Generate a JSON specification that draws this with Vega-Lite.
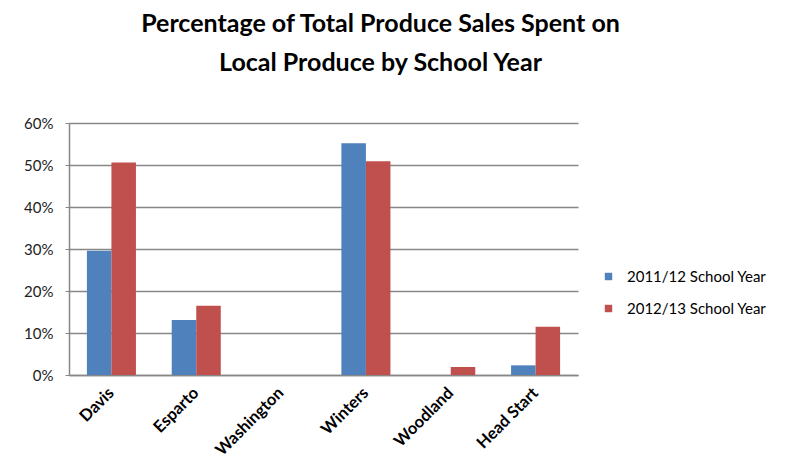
{
  "$schema": "https://vega.github.io/schema/vega-lite/v6.json",
  "width": 509,
  "height": 252,
  "autosize": {"type": "none"},
  "padding": {"left": 69, "top": 123, "right": 208, "bottom": 99},
  "background": "white",
  "title": {
    "text": ["Percentage of Total Produce Sales Spent on", "Local Produce by School Year"],
    "font": "Lato",
    "fontSize": 25,
    "fontWeight": "bold",
    "color": "#000000",
    "anchor": "middle",
    "frame": "group",
    "dx": 57,
    "lineHeight": 39,
    "offset": 40
  },
  "data": {
    "values": [
      {"school": "Davis", "year": "2011/12 School Year", "share": 0.296},
      {"school": "Davis", "year": "2012/13 School Year", "share": 0.506},
      {"school": "Esparto", "year": "2011/12 School Year", "share": 0.131},
      {"school": "Esparto", "year": "2012/13 School Year", "share": 0.165},
      {"school": "Washington", "year": "2011/12 School Year", "share": 0},
      {"school": "Washington", "year": "2012/13 School Year", "share": 0},
      {"school": "Winters", "year": "2011/12 School Year", "share": 0.552},
      {"school": "Winters", "year": "2012/13 School Year", "share": 0.509},
      {"school": "Woodland", "year": "2011/12 School Year", "share": 0},
      {"school": "Woodland", "year": "2012/13 School Year", "share": 0.019},
      {"school": "Head Start", "year": "2011/12 School Year", "share": 0.023},
      {"school": "Head Start", "year": "2012/13 School Year", "share": 0.115}
    ]
  },
  "mark": {"type": "bar"},
  "encoding": {
    "x": {
      "field": "school",
      "type": "nominal",
      "sort": null,
      "scale": {"paddingInner": 0, "paddingOuter": 0},
      "axis": {
        "title": null,
        "labelAngle": -45,
        "labelAlign": "right",
        "labelBaseline": "middle",
        "labelFont": "Lato",
        "labelFontSize": 16.5,
        "labelFontWeight": "bold",
        "labelColor": "#000000",
        "labelPadding": 15,
        "ticks": false,
        "domainColor": "#878787",
        "domainWidth": 1.5,
        "grid": false
      }
    },
    "xOffset": {
      "field": "year",
      "type": "nominal",
      "scale": {"paddingInner": 0, "paddingOuter": 0.73}
    },
    "y": {
      "field": "share",
      "type": "quantitative",
      "scale": {"domain": [0, 0.6], "nice": false},
      "axis": {
        "title": null,
        "format": ".0%",
        "values": [0, 0.1, 0.2, 0.3, 0.4, 0.5, 0.6],
        "labelFont": "Lato",
        "labelFontSize": 15,
        "labelColor": "#222222",
        "labelPadding": 12,
        "tickSize": 4,
        "tickColor": "#878787",
        "domainColor": "#878787",
        "domainWidth": 1.5,
        "grid": true,
        "gridColor": "#878787",
        "gridWidth": 1.5
      }
    },
    "color": {
      "field": "year",
      "type": "nominal",
      "scale": {"range": ["#4F81BD", "#C0504D"]},
      "legend": {
        "title": null,
        "orient": "none",
        "legendX": 532,
        "legendY": 146,
        "symbolType": "square",
        "symbolSize": 55,
        "symbolStrokeWidth": 0,
        "labelFont": "Lato",
        "labelFontSize": 15,
        "labelColor": "#000000",
        "labelOffset": 11,
        "rowPadding": 16
      }
    }
  },
  "config": {
    "view": {"stroke": null}
  }
}
